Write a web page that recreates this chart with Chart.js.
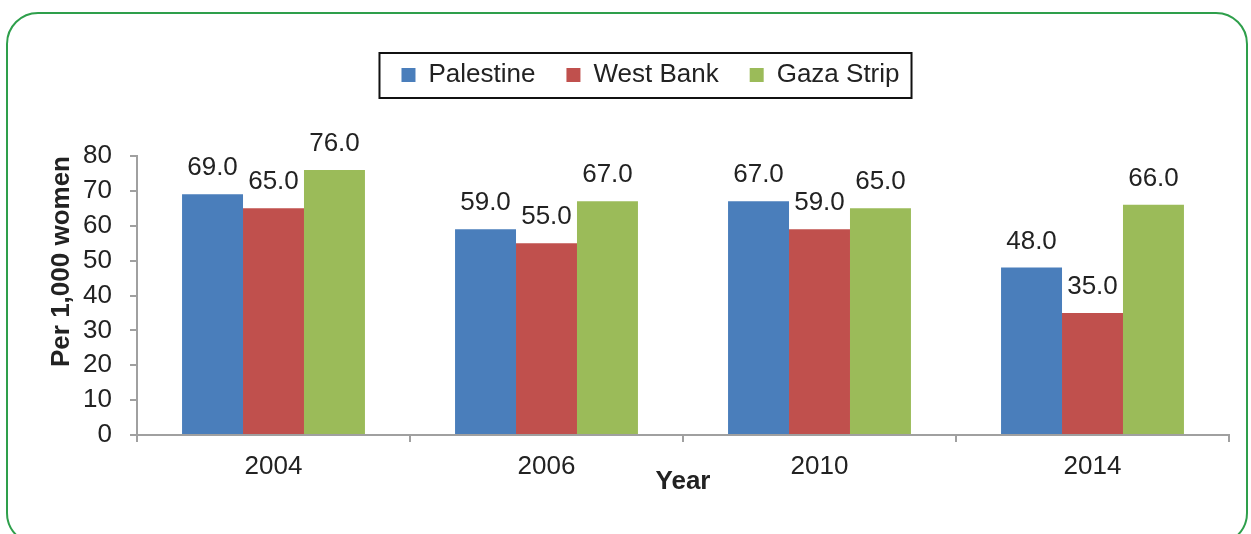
<!DOCTYPE html>
<html>
<head>
<meta charset="utf-8">
<script src="https://cdn.jsdelivr.net/npm/chart.js@4/dist/chart.umd.min.js"></script>
<style>
    html, body { margin: 0; padding: 0; background: #fff; overflow: hidden; }
    #wrap { position: absolute; left: 0; top: 0; width: 1251px; height: 534px; }
    #frame {
        position: absolute; left: 6px; top: 12px; width: 1242px; height: 533px;
        box-sizing: border-box; border: 2px solid #2e9f4b; border-radius: 32px;
        pointer-events: none;
    }
</style>
</head>
<body>
<div id="wrap">
    <canvas id="graficoTaxa" width="1251" height="534"></canvas>
    <div id="frame"></div>
</div>
<script>
// ============================================================
// Per 1,000 women – Palestine / West Bank / Gaza Strip
// ============================================================

const anos = ["2004", "2006", "2010", "2014"];
const palestina = [69.0, 59.0, 67.0, 48.0];
const cisjordania = [65.0, 55.0, 59.0, 35.0];
const gaza = [76.0, 67.0, 65.0, 66.0];
const yTicks = [0, 10, 20, 30, 40, 50, 60, 70, 80];

const FONTE = "'Liberation Sans', Arial, sans-serif";
const COR_TEXTO = "#222";
const COR_EIXO = "#a0a0a0";

// rótulos de valor em cima das barras
const rotulosPlugin = {
    id: "rotulos",
    afterDatasetsDraw(chart) {
        const ctx = chart.ctx;
        ctx.save();
        ctx.font = "26px " + FONTE;
        ctx.fillStyle = COR_TEXTO;
        ctx.textAlign = "center";
        ctx.textBaseline = "alphabetic";
        chart.data.datasets.forEach((ds, i) => {
            chart.getDatasetMeta(i).data.forEach((bar, j) => {
                ctx.fillText(ds.data[j].toFixed(1), bar.x, bar.y - 19);
            });
        });
        ctx.restore();
    }
};

// espaço extra abaixo da legenda + moldura preta em volta dela
const legendaPlugin = {
    id: "legendaBox",
    beforeLayout(chart) {
        const lg = chart.legend;
        if (lg && !lg._ajustada) {
            const fit = lg.fit;
            lg.fit = function () {
                fit.call(this);
                this.height += 58;
            };
            lg._ajustada = true;
        }
    },
    afterDraw(chart) {
        const hb = chart.legend && chart.legend.legendHitBoxes;
        if (!hb || !hb.length) return;
        const ult = hb[hb.length - 1];
        const x0 = hb[0].left - 22;
        const x1 = ult.left + ult.width + 12;
        const y0 = hb[0].top - 9;
        const ctx = chart.ctx;
        ctx.save();
        ctx.strokeStyle = "#111";
        ctx.lineWidth = 2;
        ctx.strokeRect(x0, y0, x1 - x0, 45);
        ctx.restore();
    }
};

const ctx = document.getElementById("graficoTaxa").getContext("2d");

new Chart(ctx, {
    type: "bar",
    data: {
        labels: anos,
        datasets: [
            { label: "Palestine", data: palestina, backgroundColor: "#4a7ebb" },
            { label: "West Bank", data: cisjordania, backgroundColor: "#c0504d" },
            { label: "Gaza Strip", data: gaza, backgroundColor: "#9bbb59" }
        ]
    },
    options: {
        responsive: false,
        animation: false,
        layout: { padding: { top: 31, left: 72, right: 22, bottom: 37 } },
        datasets: {
            bar: { barPercentage: 1.0, categoryPercentage: 0.67, borderWidth: 0 }
        },
        plugins: {
            legend: {
                position: "top",
                labels: {
                    boxWidth: 14,
                    boxHeight: 14,
                    padding: 31,
                    color: COR_TEXTO,
                    font: { family: FONTE, size: 26 }
                }
            },
            tooltip: { enabled: false }
        },
        scales: {
            x: {
                grid: { display: true, drawOnChartArea: false, drawTicks: true, tickLength: 7, color: COR_EIXO, lineWidth: 2, offset: true },
                border: { display: true, color: COR_EIXO, width: 2 },
                ticks: { color: COR_TEXTO, padding: 9, font: { family: FONTE, size: 26 } },
                title: {
                    display: true,
                    text: "Year",
                    color: COR_TEXTO,
                    padding: { top: 0, bottom: 0 },
                    font: { family: FONTE, size: 26, weight: "bold" }
                },
                afterFit(scale) { scale.height = 62; }
            },
            y: {
                min: 0,
                max: 80,
                afterBuildTicks(scale) { scale.ticks = yTicks.map(v => ({ value: v })); },
                grid: { display: true, drawOnChartArea: false, drawTicks: true, tickLength: 7, color: COR_EIXO, lineWidth: 2 },
                border: { display: true, color: COR_EIXO, width: 2 },
                ticks: { color: COR_TEXTO, padding: 18, font: { family: FONTE, size: 26 } },
                title: {
                    display: true,
                    text: "Per 1,000 women",
                    align: "end",
                    color: COR_TEXTO,
                    padding: { top: -25.6, bottom: 0 },
                    font: { family: FONTE, size: 26, weight: "bold" }
                },
                afterFit(scale) { scale.width = 65; }
            }
        }
    },
    plugins: [rotulosPlugin, legendaPlugin]
});
</script>
</body>
</html>
